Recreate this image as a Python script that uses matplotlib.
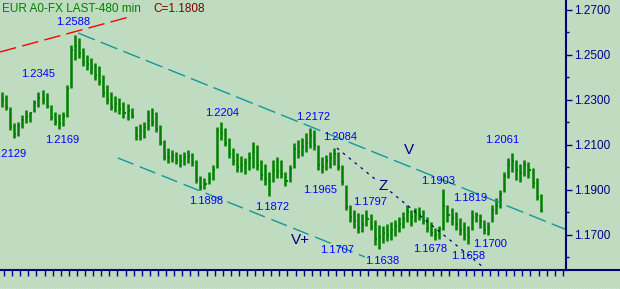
import matplotlib.pyplot as plt
from matplotlib.lines import Line2D
import numpy as np

plt.rcParams['font.family'] = ['Liberation Sans', 'DejaVu Sans']
plt.rcParams['lines.scale_dashes'] = False

# 480 min bars, EUR A0-FX
highs = [1.2335, 1.2322, 1.2269, 1.2197, 1.2202, 1.2233, 1.2255, 1.2246, 1.2300, 1.2335,
         1.2344, 1.2331, 1.2277, 1.2246, 1.2237, 1.2246, 1.2366, 1.2544, 1.2589, 1.2575,
         1.2531, 1.2500, 1.2486, 1.2464, 1.2451, 1.2411, 1.2366, 1.2335, 1.2317, 1.2308,
         1.2291, 1.2282, 1.2264, 1.2184, 1.2193, 1.2202, 1.2255, 1.2264, 1.2246, 1.2188,
         1.2122, 1.2086, 1.2077, 1.2068, 1.2060, 1.2068, 1.2077, 1.2064, 1.2033, 1.1962,
         1.1953, 1.1980, 1.2011, 1.2180, 1.2202, 1.2175, 1.2131, 1.2086, 1.2064, 1.2051,
         1.2042, 1.2068, 1.2113, 1.2100, 1.2033, 1.2015, 1.1980, 1.2033, 1.2046, 1.2033,
         1.1980, 1.2011, 1.2108, 1.2122, 1.2131, 1.2153, 1.2175, 1.2166, 1.2100, 1.2046,
         1.2055, 1.2068, 1.2086, 1.2068, 1.2011, 1.1922, 1.1833, 1.1811, 1.1797, 1.1793,
         1.1811, 1.1793, 1.1767, 1.1744, 1.1740, 1.1749, 1.1758, 1.1767, 1.1780, 1.1802,
         1.1833, 1.1811, 1.1820, 1.1824, 1.1811, 1.1780, 1.1758, 1.1731, 1.1740, 1.1904,
         1.1833, 1.1820, 1.1802, 1.1775, 1.1758, 1.1740, 1.1811, 1.1802, 1.1793, 1.1767,
         1.1758, 1.1833, 1.1864, 1.1900, 1.1980, 1.2042, 1.2064, 1.2033, 1.2015, 1.2033,
         1.2024, 1.1997, 1.1953, 1.1882]
lows = [1.2269, 1.2255, 1.2166, 1.2131, 1.2140, 1.2175, 1.2197, 1.2202, 1.2246, 1.2269,
        1.2282, 1.2264, 1.2211, 1.2188, 1.2171, 1.2184, 1.2224, 1.2353, 1.2477, 1.2486,
        1.2451, 1.2433, 1.2415, 1.2389, 1.2366, 1.2313, 1.2282, 1.2255, 1.2246, 1.2237,
        1.2220, 1.2211, 1.2220, 1.2122, 1.2122, 1.2131, 1.2166, 1.2184, 1.2157, 1.2100,
        1.2033, 1.2020, 1.2024, 1.2015, 1.2002, 1.2011, 1.2020, 1.2006, 1.1931, 1.1900,
        1.1904, 1.1926, 1.1944, 1.1997, 1.2122, 1.2095, 1.2042, 1.2011, 1.1980, 1.1980,
        1.1971, 1.1988, 1.1997, 1.1988, 1.1944, 1.1922, 1.1873, 1.1935, 1.1953, 1.1953,
        1.1917, 1.1935, 1.1997, 1.2042, 1.2051, 1.2068, 1.2086, 1.2077, 1.1988, 1.1975,
        1.1988, 1.1997, 1.2011, 1.1988, 1.1922, 1.1811, 1.1758, 1.1731, 1.1709, 1.1713,
        1.1740, 1.1722, 1.1655, 1.1637, 1.1664, 1.1673, 1.1678, 1.1695, 1.1713, 1.1731,
        1.1758, 1.1740, 1.1758, 1.1767, 1.1749, 1.1713, 1.1695, 1.1678, 1.1682, 1.1722,
        1.1758, 1.1744, 1.1722, 1.1700, 1.1678, 1.1660, 1.1722, 1.1758, 1.1731, 1.1704,
        1.1700, 1.1758, 1.1793, 1.1820, 1.1891, 1.1953, 1.1980, 1.1944, 1.1935, 1.1962,
        1.1953, 1.1908, 1.1855, 1.1802]
closes = [1.2300, 1.2270, 1.2180, 1.2150, 1.2185, 1.2210, 1.2225, 1.2240, 1.2285, 1.2310,
          1.2300, 1.2275, 1.2225, 1.2200, 1.2195, 1.2230, 1.2350, 1.2520, 1.2540, 1.2510,
          1.2470, 1.2460, 1.2440, 1.2410, 1.2380, 1.2330, 1.2300, 1.2270, 1.2280, 1.2260,
          1.2240, 1.2250, 1.2230, 1.2140, 1.2160, 1.2180, 1.2210, 1.2200, 1.2170, 1.2110,
          1.2045, 1.2040, 1.2050, 1.2035, 1.2030, 1.2045, 1.2050, 1.2020, 1.1945, 1.1915,
          1.1925, 1.1950, 1.1990, 1.2160, 1.2150, 1.2110, 1.2060, 1.2030, 1.2000, 1.2010,
          1.2020, 1.2040, 1.2070, 1.2010, 1.1965, 1.1950, 1.1940, 1.1990, 1.1985, 1.1970,
          1.1940, 1.1995, 1.2080, 1.2070, 1.2090, 1.2110, 1.2140, 1.2100, 1.2010, 1.2000,
          1.2030, 1.2040, 1.2060, 1.2000, 1.1935, 1.1825, 1.1780, 1.1760, 1.1730, 1.1750,
          1.1770, 1.1735, 1.1680, 1.1690, 1.1710, 1.1700, 1.1720, 1.1740, 1.1750, 1.1770,
          1.1800, 1.1780, 1.1795, 1.1790, 1.1760, 1.1730, 1.1710, 1.1700, 1.1725, 1.1830,
          1.1790, 1.1775, 1.1750, 1.1720, 1.1700, 1.1690, 1.1780, 1.1790, 1.1760, 1.1720,
          1.1730, 1.1810, 1.1830, 1.1880, 1.1960, 1.2010, 1.2030, 1.1990, 1.1975, 1.2010,
          1.1990, 1.1930, 1.1870, 1.1808]

# trend lines (bar index, price)
red_x, red_y = [-0.5, 32.3], [1.2513, 1.2673]
upper_x, upper_y = [18.8, 139.5], [1.2597, 1.1722]
lower_x, lower_y = [28.6, 89.6], [1.2042, 1.1602]
z_x, z_y = [82.7, 118.8], [1.2086, 1.1557]

price_labels = ['1.2588', '1.2345', '1.2169', '1.2204', '1.2172', '1.2084', '1.2061',
                '1.1898', '1.1872', '1.1965', '1.1797', '1.1903', '1.1819', '1.1707',
                '1.1638', '1.1678', '1.1700', '1.1658']
label_pos = [(17.5, 1.2646), (8.9, 1.2415), (14.8, 1.2122), (54.3, 1.2242), (76.8, 1.2224),
             (83.5, 1.2135), (123.5, 1.2122), (50.4, 1.1851), (66.7, 1.1824), (78.5, 1.1900),
             (90.9, 1.1846), (107.7, 1.1940), (115.6, 1.1864), (82.7, 1.1633), (93.8, 1.1584),
             (105.7, 1.1637), (120.5, 1.1660), (115.1, 1.1606)]

bg = '#c0dcc0'
navy = '#000080'

fig = plt.figure(figsize=(6.2, 2.89), dpi=100, facecolor=bg)
ax = fig.add_axes([0, 19 / 289, 566 / 620, 270 / 289], facecolor=bg)

x = np.arange(len(highs))
ax.vlines(x, lows, highs, color='#008000', lw=1.8)
ax.hlines(closes, x, x + 0.5, color='#008000', lw=1.4)

ax.plot(red_x, red_y, color='#ff0000', lw=1, dashes=(12, 4.5))
ax.plot(upper_x, upper_y, color='#119999', lw=1, dashes=(13, 4.5))
ax.plot(lower_x, lower_y, color='#119999', lw=1, dashes=(12, 5))
ax.plot(z_x, z_y, color=navy, lw=0.9, dashes=(2, 3.5))

for t, (px, py) in zip(price_labels, label_pos):
    ax.text(px, py, t, color='#0000ff', fontsize=8, ha='center', va='center')
# this one runs off the left edge in the original
ax.text(5.9, 1.2060, '1.2129', color='#0000ff', fontsize=8, ha='right', va='center')

ax.text(100.5, 1.2077, 'V', color=navy, fontsize=11, ha='center', va='center')
ax.text(94.1, 1.1917, 'Z', color=navy, fontsize=11, ha='center', va='center',
        bbox=dict(facecolor=bg, edgecolor='none', pad=0.5))
ax.text(73.6, 1.1677, 'V+', color=navy, fontsize=11, ha='center', va='center')

ax.set_xlim(-0.494, 139.26)
ax.set_ylim(1.1544, 1.2744)

for s in ['top', 'left']:
    ax.spines[s].set_visible(False)
for s in ['right', 'bottom']:
    ax.spines[s].set_color(navy)
    ax.spines[s].set_linewidth(1.5)

ax.yaxis.tick_right()
ax.set_yticks(np.arange(1.17, 1.2701, 0.02))
ax.set_yticklabels(['%.4f' % v for v in np.arange(1.17, 1.2701, 0.02)])
ax.set_yticks(np.arange(1.16, 1.2601, 0.02), minor=True)
ax.tick_params(axis='y', which='major', direction='out', length=4, width=1,
               colors=navy, labelsize=8.5, pad=1.5)
ax.tick_params(axis='y', which='minor', direction='out', length=2.5, width=1, colors=navy)
ax.set_xticks(np.arange(0.494, 139.3, 2))
ax.tick_params(axis='x', direction='out', length=4.3, width=1, color=navy, labelbottom=False)

# rest of bottom axis line under the price scale
fig.add_artist(Line2D([566 / 620, 1], [19 / 289, 19 / 289], color=navy, lw=1.5))
fig.add_artist(Line2D([0, 1], [0.5 / 289, 0.5 / 289], color='white', lw=1, dashes=(1, 1)))

fig.text(2 / 620, 1 - 9 / 289, 'EUR A0-FX LAST-480 min', color='#008000', fontsize=8.5, va='center')
fig.text(153 / 620, 1 - 9 / 289, 'C=1.1808', color='#800000', fontsize=8.5, va='center')

fig.savefig('out.png', dpi=100, facecolor=bg)
